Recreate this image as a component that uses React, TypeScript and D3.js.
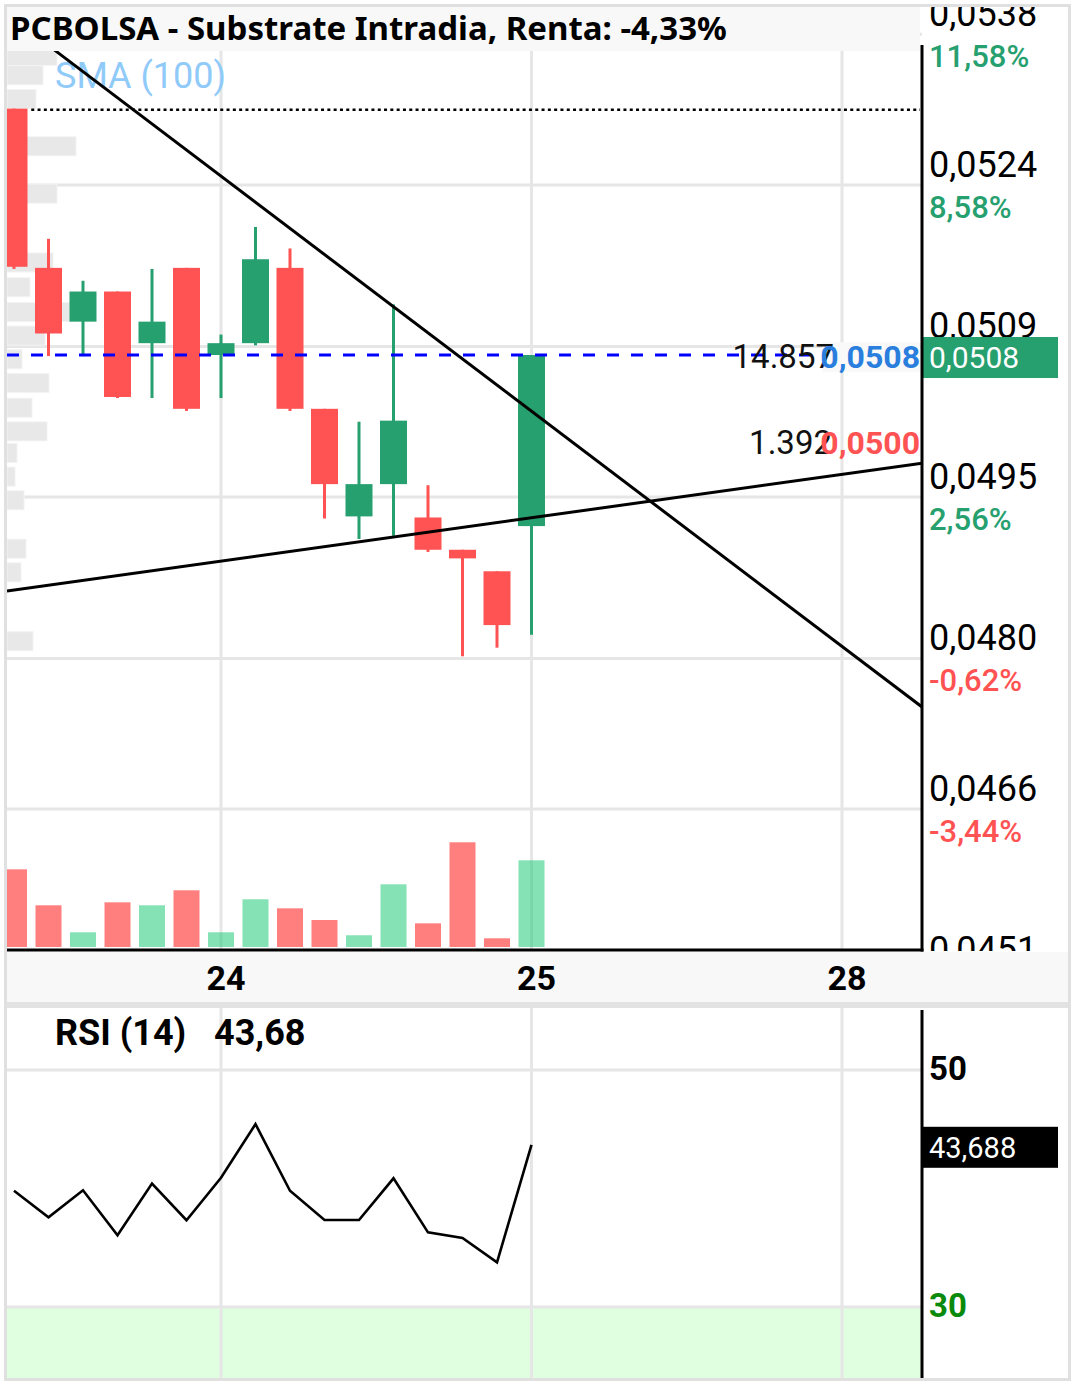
import React from 'react';
import * as d3 from 'd3';

const W = 1076;
const H = 1385;

// ---- data ----
const slots = [0, 1, 2, 3, 4, 5, 6, 7, 8, 9, 10, 11, 12, 13, 14, 15];
const opens = [0.05311, 0.05163, 0.05113, 0.05141, 0.05093, 0.05163, 0.05082, 0.05093, 0.05163, 0.05032, 0.04932, 0.04962, 0.04931, 0.04901, 0.04881, 0.04923];
const highs = [0.05311, 0.0519, 0.05151, 0.05141, 0.05162, 0.05163, 0.05101, 0.05201, 0.05181, 0.05032, 0.0502, 0.05129, 0.04961, 0.04901, 0.04881, 0.05082];
const lows = [0.05162, 0.05081, 0.05081, 0.05042, 0.05042, 0.0503, 0.05042, 0.05091, 0.0503, 0.0493, 0.04911, 0.04914, 0.04899, 0.04802, 0.0481, 0.04822];
const closes = [0.05164, 0.05102, 0.05141, 0.05043, 0.05113, 0.05032, 0.05093, 0.05171, 0.05032, 0.04962, 0.04962, 0.05021, 0.04901, 0.04893, 0.04831, 0.05082];
const volumes = [13320, 7150, 2520, 7660, 7150, 9720, 2520, 8180, 6630, 4630, 2010, 10750, 4060, 17950, 1490, 14857];
const rsiValues = [39.81, 37.57, 39.85, 36.05, 40.41, 37.32, 40.91, 45.44, 39.81, 37.34, 37.34, 40.86, 36.3, 35.82, 33.77, 43.688];

const profilePrices = [0.0536, 0.05342, 0.0532, 0.05276, 0.05232, 0.05168, 0.05145, 0.05122, 0.051, 0.05078, 0.05056, 0.05033, 0.05011, 0.04991, 0.04969, 0.04947, 0.04902, 0.0488, 0.04816];
const profileVolumes = [50000, 36000, 29000, 69000, 50000, 46000, 23000, 63000, 38000, 15000, 42000, 25000, 40000, 10000, 8000, 17000, 19000, 14000, 26000];

const priceTicks = [0.0538, 0.0524, 0.0509, 0.0495, 0.048, 0.0466, 0.0451];
const priceTickLabels = ['0,0538', '0,0524', '0,0509', '0,0495', '0,0480', '0,0466', '0,0451'];
const pctTickLabels = ['11,58%', '8,58%', '', '2,56%', '-0,62%', '-3,44%', ''];

const xTickSlots = [6, 15, 24];
const xTickLabels = ['24', '25', '28'];

const rsiTicks = [50, 30];
const rsiTickLabels = ['50', '30'];

const trendDownSlots = [0, 26.32];
const trendDownPrices = [0.053939, 0.047549];
const trendUpSlots = [-0.203, 26.32];
const trendUpPrices = [0.048627, 0.049814];

const refPrice = 0.0531;
const bidVolume = '14.857';
const bidPrice = 0.0508;
const askVolume = '1.392';
const askPrice = 0.05;

const TITLE = 'PCBOLSA - Substrate Intradia, Renta: -4,33%';

const GREEN = '#26a06f';
const RED = '#ff5252';
const GRID = '#e6e6e6';

const fmt4 = (v: number) => v.toFixed(4).replace('.', ',');
const trunc2 = (v: number) => (Math.floor(v * 100) / 100).toFixed(2).replace('.', ',');

export default function App() {
  React.useEffect(() => {
    document.body.style.margin = '0';
    document.body.style.overflow = 'hidden';
  }, []);

  const L = 7;
  const R = 922;
  const priceBottom = 950;
  const rsiTop = 1008;
  const rsiBottom = 1378;

  const x = d3.scaleLinear().domain([0, 24]).range([14, 842]);
  const y = d3.scaleLinear().domain([0.0451, 0.0538]).range([970.48, 34.36]);
  const yVol = d3.scaleLinear().domain([0, 17950]).range([947, 842.3]);
  const xProf = d3.scaleLinear().domain([0, 69000]).range([L, L + 69]);
  const yRsi = d3.scaleLinear().domain([30, 50]).range([1307, 1070]);

  const bodyW = 27;
  const volW = 26;
  const profHalf = 0.0000885;

  const lineGen = d3.line<[number, number]>().x((d) => d[0]).y((d) => d[1]);
  const downPath = lineGen(trendDownSlots.map((s, i) => [x(s), y(trendDownPrices[i])] as [number, number]));
  const upPath = lineGen(trendUpSlots.map((s, i) => [x(s), y(trendUpPrices[i])] as [number, number]));
  const rsiPath = lineGen(slots.map((s, i) => [x(s), yRsi(rsiValues[i])] as [number, number]));

  const lastClose = closes[closes.length - 1];
  const lastRsi = rsiValues[rsiValues.length - 1];

  return (
    <svg
      width={W}
      height={H}
      viewBox={`0 0 ${W} ${H}`}
      style={{ position: 'absolute', left: 0, top: 0, display: 'block' }}
      fontFamily="Roboto, 'Noto Sans', sans-serif"
    >
      <defs>
        <clipPath id="clipPrice">
          <rect x={L} y={7} width={R - L} height={priceBottom - 7} />
        </clipPath>
        <clipPath id="clipAxis">
          <rect x={R} y={7} width={1068 - R} height={951 - 7} />
        </clipPath>
        <clipPath id="clipRsi">
          <rect x={L} y={rsiTop} width={R - L} height={rsiBottom - rsiTop} />
        </clipPath>
      </defs>
      <rect x={0} y={0} width={W} height={H} fill="#ffffff" />

      {/* ===== price panel ===== */}
      <g clipPath="url(#clipPrice)">
        {priceTicks.map((t, i) => (
          <line key={'hg' + i} x1={L} x2={R} y1={y(t)} y2={y(t)} stroke={GRID} strokeWidth={3} />
        ))}
        {xTickSlots.map((s, i) => (
          <line key={'vg' + i} x1={x(s)} x2={x(s)} y1={7} y2={priceBottom} stroke={GRID} strokeWidth={3} />
        ))}
        {/* volume profile */}
        {profilePrices.map((p, i) => (
          <rect
            key={'pf' + i}
            x={L}
            y={y(p + profHalf)}
            width={xProf(profileVolumes[i]) - L}
            height={y(p - profHalf) - y(p + profHalf)}
            fill="#e8e8e8"
            stroke="#f3f3f3"
            strokeWidth={1}
          />
        ))}
        {/* volume bars */}
        {slots.map((s, i) => (
          <rect
            key={'v' + i}
            x={x(s) - volW / 2}
            y={yVol(volumes[i])}
            width={volW}
            height={yVol(0) - yVol(volumes[i])}
            fill={closes[i] >= opens[i] ? '#0ac66a' : '#ff0000'}
            fillOpacity={0.5}
          />
        ))}
        {/* candles */}
        {slots.map((s, i) => {
          const up = closes[i] >= opens[i];
          const c = up ? GREEN : RED;
          const top = y(Math.max(opens[i], closes[i]));
          const bot = y(Math.min(opens[i], closes[i]));
          return (
            <g key={'c' + i}>
              <rect x={x(s) - 1.5} y={y(highs[i])} width={3} height={y(lows[i]) - y(highs[i])} fill={c} />
              <rect x={x(s) - bodyW / 2} y={top} width={bodyW} height={Math.max(1, bot - top)} fill={c} />
            </g>
          );
        })}
        <text x={55} y={88} fontSize={36} fill="#90caf9">
          SMA (100)
        </text>
        {/* reference dotted line */}
        <line x1={x(0.5)} x2={R - 2} y1={y(refPrice)} y2={y(refPrice)} stroke="#000" strokeWidth={2.5} strokeDasharray="3 3.3" />
        {/* trend lines */}
        <path d={downPath || ''} fill="none" stroke="#000" strokeWidth={3} />
        <path d={upPath || ''} fill="none" stroke="#000" strokeWidth={3} />
        {/* last price dashed line */}
        <line x1={L} x2={R - 2} y1={y(lastClose)} y2={y(lastClose)} stroke="#0000ff" strokeWidth={3} strokeDasharray="12 12" />
        {/* bid / ask annotations */}
        <rect x={822} y={y(bidPrice) - 15} width={98} height={30} fill="#f9f9f9" />
        <text x={834} y={y(bidPrice) + 11} fontSize={33} textAnchor="end" fill="#111">
          {bidVolume}
        </text>
        <text x={920} y={y(bidPrice) + 11} fontSize={32} fontWeight={700} textAnchor="end" fill="#2a7fde">
          {fmt4(bidPrice)}
        </text>
        <text x={832} y={y(askPrice) + 11} fontSize={33} textAnchor="end" fill="#111">
          {askVolume}
        </text>
        <text x={920} y={y(askPrice) + 11} fontSize={32} fontWeight={700} textAnchor="end" fill={RED}>
          {fmt4(askPrice)}
        </text>
        {/* title bar */}
        <rect x={L} y={7} width={913} height={44} fill="#f8f8f8" />
        <text x={10} y={40} fontSize={33} fontWeight={700} fill="#000" fontFamily="'Noto Sans', sans-serif">
          {TITLE}
        </text>
      </g>

      {/* right price axis */}
      <g clipPath="url(#clipAxis)">
        {priceTicks.map((t, i) => (
          <g key={'pl' + i}>
            <text x={929} y={y(t) - 8} fontSize={36} fill="#000">
              {priceTickLabels[i]}
            </text>
            {pctTickLabels[i] && (
              <text
                x={929}
                y={y(t) + 33}
                fontSize={31}
                fontWeight={500}
                fill={pctTickLabels[i].startsWith('-') ? RED : GREEN}
              >
                {pctTickLabels[i]}
              </text>
            )}
          </g>
        ))}
        <rect x={R} y={y(lastClose) - 18} width={136} height={41} fill={GREEN} />
        <text x={929} y={y(lastClose) + 13} fontSize={30} fill="#fff">
          {fmt4(lastClose)}
        </text>
      </g>
      <line x1={R} x2={R} y1={45} y2={951.5} stroke="#000" strokeWidth={3} />
      <line x1={L} x2={R + 1.5} y1={950} y2={950} stroke="#000" strokeWidth={3} />

      {/* x axis band */}
      <rect x={L} y={952} width={1061} height={50} fill="#f8f8f8" />
      {xTickSlots.map((s, i) => (
        <text key={'xl' + i} x={x(s) + 5} y={990} fontSize={34} fontWeight={700} textAnchor="middle" fill="#000">
          {xTickLabels[i]}
        </text>
      ))}
      <rect x={L} y={1002} width={1061} height={6} fill="#e2e2e2" />

      {/* ===== RSI panel ===== */}
      <g clipPath="url(#clipRsi)">
        <rect x={L} y={yRsi(30)} width={R - L} height={rsiBottom - yRsi(30)} fill="#e0ffe0" />
        {rsiTicks.map((t, i) => (
          <line key={'rg' + i} x1={L} x2={R} y1={yRsi(t)} y2={yRsi(t)} stroke={GRID} strokeWidth={3} />
        ))}
        {xTickSlots.map((s, i) => (
          <line key={'rvg' + i} x1={x(s)} x2={x(s)} y1={rsiTop} y2={rsiBottom} stroke={GRID} strokeWidth={3} />
        ))}
        <path d={rsiPath || ''} fill="none" stroke="#000" strokeWidth={2.6} strokeLinejoin="miter" />
        <text x={55} y={1045} fontSize={36} fontWeight={700} fill="#000">
          RSI (14)
        </text>
        <text x={214} y={1045} fontSize={36} fontWeight={700} fill="#000">
          {trunc2(lastRsi)}
        </text>
      </g>
      <line x1={R} x2={R} y1={1010} y2={rsiBottom} stroke="#000" strokeWidth={3} />
      {rsiTicks.map((t, i) => (
        <text
          key={'rl' + i}
          x={929}
          y={yRsi(t) + 10}
          fontSize={33}
          fontWeight={700}
          fill={t === 30 ? '#0a8a0a' : '#000'}
        >
          {rsiTickLabels[i]}
        </text>
      ))}
      <rect x={921} y={yRsi(lastRsi) - 18} width={137} height={41} fill="#000" />
      <text x={929} y={yRsi(lastRsi) + 13} fontSize={29} fill="#fff">
        {lastRsi.toFixed(3).replace('.', ',')}
      </text>

      {/* outer frame */}
      <rect x={5.5} y={5.5} width={1064} height={1374} fill="none" stroke="#e0e0e0" strokeWidth={3} />
    </svg>
  );
}
